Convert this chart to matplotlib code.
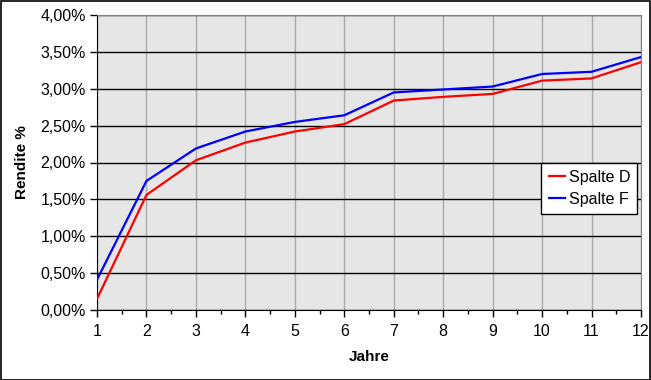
import matplotlib.pyplot as plt
from matplotlib.ticker import FuncFormatter, MultipleLocator

# ===== Data =====
jahre = [1, 2, 3, 4, 5, 6, 7, 8, 9, 10, 11, 12]
spalte_d = [0.15, 1.56, 2.03, 2.27, 2.42, 2.52, 2.84, 2.89, 2.93, 3.11, 3.14, 3.36]
spalte_f = [0.41, 1.75, 2.19, 2.42, 2.55, 2.64, 2.95, 2.99, 3.03, 3.20, 3.23, 3.43]

plt.rcParams['font.family'] = ['Liberation Sans', 'DejaVu Sans']

W, H = 651, 380
fig = plt.figure(figsize=(W / 100, H / 100), dpi=100)
ax = fig.add_axes([97 / W, 1 - 310 / H, (641 - 97) / W, (310 - 15) / H])

# figure border
fig.patches.append(plt.Rectangle((0.5 / W, 0.5 / H), 1 - 1.5 / W, 1 - 1.5 / H,
                                 transform=fig.transFigure, fill=False,
                                 edgecolor='black', linewidth=1.2))

ax.set_facecolor('#e6e6e6')
ax.plot(jahre, spalte_d, color='#ff0000', linewidth=1.6, label='Spalte D', zorder=3)
ax.plot(jahre, spalte_f, color='#0000ff', linewidth=1.6, label='Spalte F', zorder=3)

ax.set_xlim(1, 12)
ax.set_ylim(0, 4)
ax.set_xticks(jahre)
ax.xaxis.set_minor_locator(MultipleLocator(0.5))
ax.yaxis.set_major_locator(MultipleLocator(0.5))
ax.yaxis.set_major_formatter(FuncFormatter(lambda v, p: f"{v:.2f}%".replace('.', ',')))

# gridlines: black horizontal, gray vertical
ax.grid(axis='y', color='black', linewidth=1.0, zorder=1)
ax.grid(axis='x', color='#aaaaaa', linewidth=1.0, zorder=1)
ax.set_axisbelow(True)

for side in ['top', 'right']:
    ax.spines[side].set_color('#808080')
    ax.spines[side].set_linewidth(0.8)
ax.spines['left'].set_color('black')
ax.spines['bottom'].set_color('black')

ax.tick_params(axis='both', which='major', direction='out', length=5, labelsize=11.5, width=1, pad=3)
ax.tick_params(axis='x', which='major', pad=5)
ax.tick_params(axis='x', which='minor', direction='out', length=3, width=1)

ax.set_xlabel('Jahre', fontsize=11, fontweight='bold', labelpad=8)
ax.set_ylabel('Rendite %', fontsize=11, fontweight='bold', labelpad=8)

leg = ax.legend(loc='center right', bbox_to_anchor=(0.993, 0.412), fontsize=11.5,
                frameon=True, fancybox=False, edgecolor='black', framealpha=1,
                borderpad=0.45, handlelength=1.0, handletextpad=0.25, labelspacing=0.45,
                borderaxespad=0)
leg.get_frame().set_linewidth(1.0)

plt.savefig("out.png", dpi=100)
